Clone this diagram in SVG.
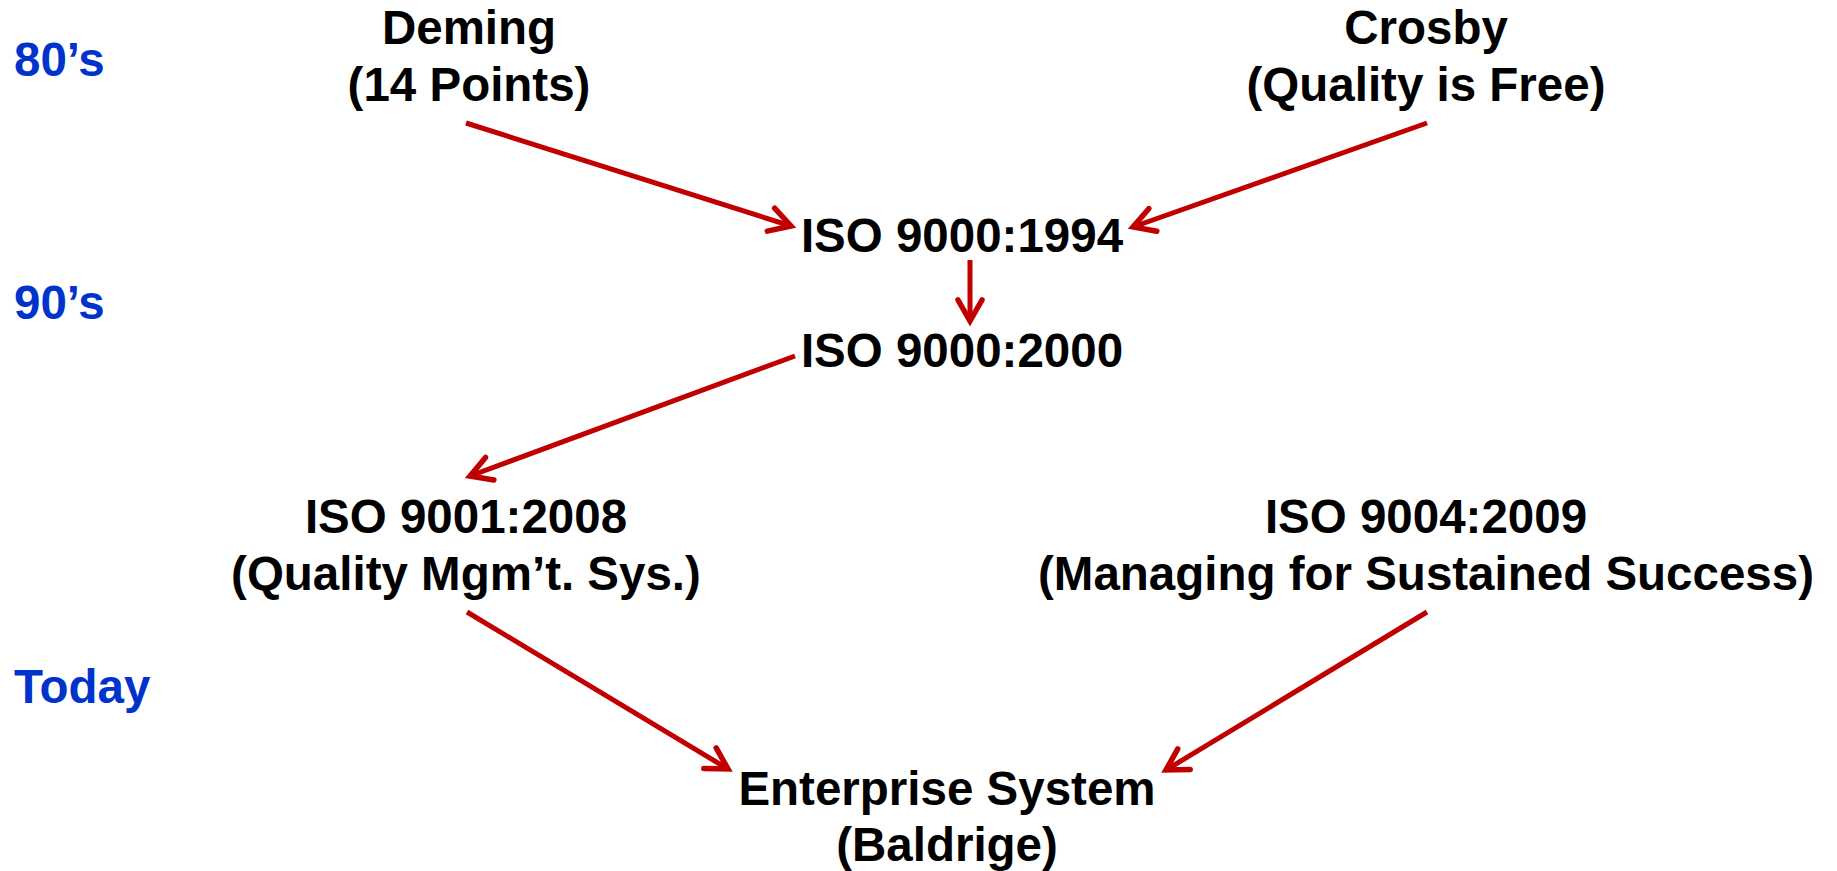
<svg xmlns="http://www.w3.org/2000/svg" width="1837" height="871" viewBox="0 0 1837 871">
<style>
text{font-family:"Liberation Sans",Arial,sans-serif;font-weight:bold;font-size:47.5px}
.node text{fill:#000;text-anchor:middle}
.era{fill:#0033CC}
.conn line{stroke:#C00000;stroke-width:5;fill:none}
</style>
<defs>
<marker id="ah" markerUnits="userSpaceOnUse" markerWidth="40" markerHeight="40" viewBox="-30 -20 40 40" refX="0" refY="0" orient="auto" overflow="visible">
<path d="M-21,-12 L0,0 L-21,12" fill="none" stroke="#C00000" stroke-width="5.5" stroke-linecap="round" stroke-linejoin="miter"/>
</marker>
</defs>
<rect width="1837" height="871" fill="#fff"/>
<g id="eras">
<text class="era" x="14" y="76">80’s</text>
<text class="era" x="14" y="319">90’s</text>
<text class="era" x="14" y="703">Today</text>
</g>
<g class="conn" id="connectors">
<line x1="466" y1="123" x2="791" y2="226" marker-end="url(#ah)"/>
<line x1="1427" y1="123" x2="1133" y2="227" marker-end="url(#ah)"/>
<line x1="970" y1="260" x2="970" y2="321" marker-end="url(#ah)"/>
<line x1="795" y1="356" x2="470" y2="476" marker-end="url(#ah)"/>
<line x1="467" y1="612" x2="728" y2="769" marker-end="url(#ah)"/>
<line x1="1427" y1="612" x2="1166" y2="770" marker-end="url(#ah)"/>
</g>
<g class="node" id="deming">
<text x="469" y="44">Deming</text>
<text x="469" y="101">(14 Points)</text>
</g>
<g class="node" id="crosby">
<text x="1426" y="44">Crosby</text>
<text x="1426" y="101">(Quality is Free)</text>
</g>
<g class="node" id="iso1994">
<text x="962" y="252">ISO 9000:1994</text>
</g>
<g class="node" id="iso2000">
<text x="962" y="367">ISO 9000:2000</text>
</g>
<g class="node" id="iso9001">
<text x="466" y="533">ISO 9001:2008</text>
<text x="466" y="590">(Quality Mgm’t. Sys.)</text>
</g>
<g class="node" id="iso9004">
<text x="1426" y="533">ISO 9004:2009</text>
<text x="1426" y="590">(Managing for Sustained Success)</text>
</g>
<g class="node" id="enterprise">
<text x="947" y="805">Enterprise System</text>
<text x="947" y="861">(Baldrige)</text>
</g>
</svg>
